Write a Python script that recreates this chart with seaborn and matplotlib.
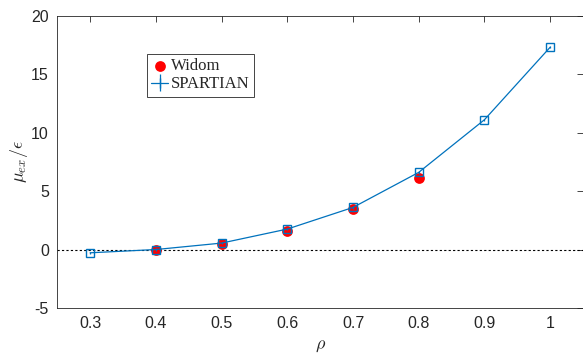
import numpy as np
import pandas as pd
import matplotlib
matplotlib.use("Agg")
import matplotlib.pyplot as plt
import seaborn as sns

rho_spartian = [0.3, 0.4, 0.5, 0.6, 0.7, 0.8, 0.9, 1.0]
mu_spartian = [-0.28, 0.0, 0.55, 1.75, 3.6, 6.6, 11.1, 17.3]
err_spartian = [0.1, 0.1, 0.1, 0.1, 0.1, 0.1, 0.1, 0.1]

rho_widom = [0.4, 0.5, 0.6, 0.7, 0.8]
mu_widom = [-0.05, 0.5, 1.6, 3.45, 6.15]

sns.set_style("white")
plt.rcParams["font.family"] = ["Liberation Sans", "DejaVu Sans"]
plt.rcParams["mathtext.fontset"] = "cm"

blue = "#0072BD"
grey = "#262626"

fig = plt.figure(figsize=(5.83, 3.54), dpi=100)
ax = fig.add_axes([0.0983, 0.13, 0.9017, 0.8257])

ax.axhline(0, color="black", linestyle=(0, (2, 2)), linewidth=0.8, zorder=1)

widom = pd.DataFrame({"rho": rho_widom, "mu": mu_widom})
sns.scatterplot(data=widom, x="rho", y="mu", ax=ax, color="red", s=60,
                edgecolor="red", linewidth=0, zorder=2, label="Widom")

spart = pd.DataFrame({"rho": rho_spartian, "mu": mu_spartian, "err": err_spartian})
sns.lineplot(data=spart, x="rho", y="mu", ax=ax, color=blue, linewidth=0.9,
             marker="s", markersize=5.5, markerfacecolor="none",
             markeredgecolor=blue, markeredgewidth=1.0, zorder=3)
ax.errorbar(spart["rho"], spart["mu"], yerr=spart["err"], fmt="none",
            ecolor=blue, elinewidth=0.9, capsize=0, zorder=3)

handles, labels = ax.get_legend_handles_labels()
h_sp = ax.errorbar([], [], yerr=[], color=blue, linewidth=0.9, marker="|",
                   markersize=7)
leg = ax.legend([handles[0], h_sp], ["Widom", "SPARTIAN"],
                loc="upper left", bbox_to_anchor=(0.171, 0.868),
                frameon=True, fancybox=False, framealpha=1, edgecolor=grey,
                prop={"family": "Liberation Serif", "size": 12},
                handlelength=1.0, handletextpad=0.2, borderpad=0.25,
                labelspacing=0.12, borderaxespad=0)
leg.get_frame().set_linewidth(0.6)

ax.set_xlim(0.25, 1.05)
ax.set_ylim(-5, 20)
ax.set_xticks([0.3, 0.4, 0.5, 0.6, 0.7, 0.8, 0.9, 1.0])
ax.set_xticklabels(["0.3", "0.4", "0.5", "0.6", "0.7", "0.8", "0.9", "1"])
ax.set_yticks([-5, 0, 5, 10, 15, 20])
ax.set_yticklabels(["-5", "0", "5", "10", "15", "20"])
ax.tick_params(direction="in", length=4, width=0.6, colors=grey,
               labelsize=11.5, top=True, right=True, pad=6)
for s in ax.spines.values():
    s.set_color(grey)
    s.set_linewidth(0.6)

ax.set_xlabel(r"$\rho$", fontsize=13, color=grey, labelpad=4)
ax.set_ylabel(r"$\mu_{ex}/\epsilon$", fontsize=13, color=grey, labelpad=1)

fig.savefig("out.png", dpi=100)
